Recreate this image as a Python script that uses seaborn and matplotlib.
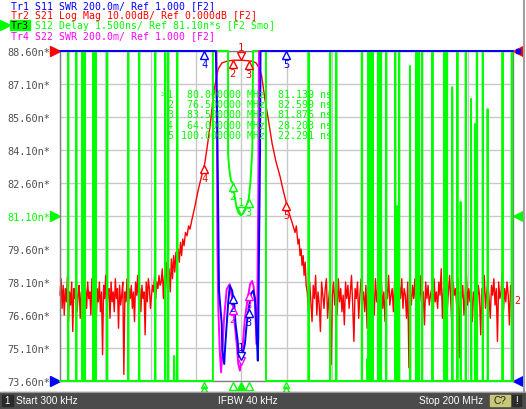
import numpy as np
import matplotlib
matplotlib.use("Agg")
import matplotlib.pyplot as plt
import matplotlib.transforms as mtransforms
from matplotlib.patches import Rectangle
import seaborn as sns

# ── sweep / screen scale (screen is labelled in Tr3 delay units) ─────────────
START_MHZ, STOP_MHZ = 0.3, 200.0
Y_BOT, Y_TOP = 73.6, 88.6
Y_TICKS = [73.6, 75.1, 76.6, 78.1, 79.6, 81.1, 82.6, 84.1, 85.6, 87.1, 88.6]
Y_TICK_LABELS = ["73.60n*", "75.10n*", "76.60n*", "78.10n*", "79.60n*", "81.10n*",
                 "82.60n*", "84.10n*", "85.60n*", "87.10n*", "88.60n*"]

BLUE, RED, GREEN, MAGENTA = "#0000ff", "#ff0000", "#00ff00", "#ff00ff"

# ── Tr2 S21 log mag (dB), 10 dB/div, ref 0 dB at top ─────────────────────────
S21_FLOOR_LEFT_DB = [
    -74, -69, -78, -71, -80, -72, -76, -68, -82, -73, -77, -70, -85, -72, -75, -69, -79, -74,
    -71, -81, -73, -76, -68, -88, -72, -78, -70, -75, -73, -80, -69, -77, -74, -71, -83, -72,
    -76, -70, -79, -73, -92, -71, -75, -68, -78, -74, -72, -81, -70, -76, -73, -79, -69, -75,
    -72, -84, -71, -77, -74, -70, -98, -73, -76, -69, -80, -72, -75, -71, -78, -73, -82, -70,
    -74, -68, -77, -72, -79, -71, -75, -73, -86, -70, -76, -69, -72, -78, -74, -71, -73, -67,
    -75, -70, -72, -68, -71]
S21_SKIRT_MHZ = [
    44.9, 45.4, 45.9, 46.4, 46.9, 47.4, 47.9, 48.4, 48.9, 49.4, 49.9, 50.4, 50.9, 51.4,
    51.9, 52.4, 52.9, 53.4, 53.9, 54.4, 55.0, 55.6, 56.3, 57.0, 57.6, 58.5, 59.8, 61.1,
    62.5, 64.0, 65.1, 66.4, 67.7, 68.6, 70.0, 71.7, 74.4, 77.0, 80.0, 82.3, 84.9, 86.7,
    88.0, 89.2, 89.9, 90.7, 91.6, 92.9, 93.8, 95.5, 97.3, 98.6, 99.7, 100.8, 102.4, 103.9,
    104.5, 105.2, 105.7, 106.1, 106.6, 107.0, 107.5, 107.9, 108.4, 108.8]
S21_SKIRT_DB = [
    -70, -66, -75, -68, -72, -64, -71, -66, -73, -63, -69, -62, -67, -61,
    -65, -60, -64, -58, -62, -57, -59, -55, -56, -53, -54, -51, -47, -42.5,
    -38.5, -34.5, -29.5, -23, -15, -10.5, -5.5, -3.6, -3.0, -2.8, -2.8, -2.9, -3.1, -3.6,
    -5, -7.5, -11, -15, -18.5, -24, -28, -33.5, -38, -42, -45, -48, -51.5, -55,
    -53, -58.5, -57, -62, -60, -65, -62, -68, -64, -71]
S21_FLOOR_RIGHT_DB = [
    -73, -79, -70, -76, -82, -71, -75, -68, -80, -73, -77, -85, -70, -74, -78, -72, -69, -81,
    -75, -71, -95, -74, -70, -77, -73, -80, -69, -76, -72, -79, -74, -83, -70, -75, -71, -78,
    -73, -68, -77, -88, -72, -75, -70, -81, -74, -69, -76, -73, -79, -71, -84, -72, -77, -70,
    -75, -73, -80, -69, -76, -72, -91, -74, -70, -78, -73, -82, -71, -75, -68, -77, -74, -72,
    -79, -70, -76, -73, -85, -71, -75, -69, -78, -72, -74, -81, -70, -96, -73, -77, -71, -75,
    -69, -80, -74, -72, -76, -68, -79, -73, -83, -70, -75, -71, -77, -74, -72, -87, -69, -76,
    -73, -78, -70, -74, -66, -81, -72, -75, -71, -79, -73, -68, -76, -84, -70, -74, -72, -78,
    -69, -93, -73, -75, -71, -80, -74, -67, -77, -72, -76, -70, -82, -73, -75, -69, -79, -71,
    -74, -86, -72, -76, -68, -78, -73, -70, -75, -81, -71, -74, -69, -77, -72, -88, -70, -75,
    -73, -67, -79, -72, -76, -70, -74, -83, -71, -75, -69]

# ── Tr1 S11 / Tr4 S22 SWR, 0.2/div, ref 1.000 at bottom ─────────────────────
S11_MHZ = [0.3, 69.0, 69.6, 70.4, 71.6, 71.85, 72.7, 73.0, 73.8, 74.5, 75.2, 76.2, 77.1,
           77.7, 78.6, 79.2, 80.1, 81.1, 81.8, 82.6, 83.6, 84.5, 85.5, 86.3, 86.7, 87.5,
           87.7, 88.0, 88.5, 88.7, 200.0]
S11_SWR = [9.0, 9.0, 2.6, 1.548, 1.345, 1.184, 1.103, 1.184, 1.345, 1.487, 1.577, 1.548,
           1.467, 1.345, 1.244, 1.144, 1.123, 1.181, 1.224, 1.345, 1.448, 1.528, 1.548,
           1.497, 1.376, 1.123, 1.26, 1.74, 2.41, 9.0, 9.0]
S22_MHZ = [0.3, 69.3, 69.7, 70.1, 70.7, 71.3, 71.85, 72.6, 73.8, 75.1, 76.2, 77.1, 78.2,
           78.9, 79.6, 80.4, 81.1, 81.8, 83.0, 84.1, 85.0, 85.7, 86.3, 86.9, 87.3, 87.7,
           88.0, 200.0]
S22_SWR = [9.0, 9.0, 1.80, 1.436, 1.195, 1.053, 1.164, 1.376, 1.557, 1.587, 1.497, 1.376,
           1.224, 1.103, 1.063, 1.13, 1.26, 1.376, 1.497, 1.587, 1.606, 1.57, 1.467, 1.224,
           1.497, 2.10, 9.0, 9.0]

# ── Tr3 S12 group delay (ns): noisy out of band, clipped to screen ──────────
DELAY_PULSES_MHZ = [3.8, 7.4, 21.0, 30.3, 35.1, 42.2, 46.6, 47.9, 51.9, 109.8, 119.3,
                    122.0, 133.3, 136.2, 137.0, 138.0, 140.6, 141.7, 144.0, 148.0, 149.7,
                    159.8, 164.4, 169.7, 170.8, 175.4, 179.1, 184.0, 186.6, 195.3, 199.4]
DELAY_BANDS_MHZ = [(9.6, 11.8), (14.4, 16.6), (156.8, 159.0)]
DELAY_SPIKES_MHZ = [50.6, 135.8, 149.0, 154.6, 173.2, 176.9, 181.5, 183.2, 188.8]
DELAY_SPIKES_NS = [74.74, 74.6, 81.55, 87.92, 86.96, 81.74, 86.42, 85.28, 85.96]
DELAY_TOP_SPANS_MHZ = [(67.7, 74.4), (85.4, 91.1)]
DELAY_PASS_MHZ = [74.4, 74.9, 75.7, 76.5, 77.2, 78.1, 79.0, 80.0, 81.0, 82.1, 83.5,
                  84.2, 84.6, 85.1]
DELAY_PASS_NS = [83.92, 83.24, 82.69, 82.599, 82.05, 81.51, 81.24, 81.139, 81.21, 81.42,
                 81.876, 82.56, 83.24, 84.15]

# ── marker table ────────────────────────────────────────────────────────────
MARKER_MHZ = [80.0, 76.5, 83.5, 64.0, 100.0]
MARKER_FREQ_TXT = ["80.000000", "76.500000", "83.500000", "64.000000", "100.000000"]
MARKER_DELAY_NS = [81.139, 82.599, 81.876, 28.203, 22.291]

HEADER = [("Tr1 S11 SWR 200.0m/ Ref 1.000 [F2]", BLUE),
          ("Tr2 S21 Log Mag 10.00dB/ Ref 0.000dB [F2]", RED),
          ("Tr3 S12 Delay 1.500ns/ Ref 81.10n*s [F2 Smo]", GREEN),
          ("Tr4 S22 SWR 200.0m/ Ref 1.000 [F2]", MAGENTA)]


def db_to_screen(db):
    return Y_TOP + np.asarray(db, float) / 10.0 * 1.5


def swr_to_screen(swr):
    return Y_BOT + (np.asarray(swr, float) - 1.0) / 0.2 * 1.5


def delay_path():
    lo, hi = Y_BOT - 5, Y_TOP + 5
    events = []
    for f in DELAY_PULSES_MHZ:
        events.append((f, [(f, lo), (f, hi), (f + 0.2, hi), (f + 0.2, lo)]))
    for f, v in zip(DELAY_SPIKES_MHZ, DELAY_SPIKES_NS):
        events.append((f, [(f, lo), (f, v), (f + 0.2, lo)]))
    (a1, b1), (a2, b2) = DELAY_TOP_SPANS_MHZ
    pas = [(a1, lo), (a1, hi), (b1, hi)] + list(zip(DELAY_PASS_MHZ, DELAY_PASS_NS)) \
        + [(a2, hi), (b2, hi), (b2, lo)]
    events.append((a1, pas))
    pts = [(START_MHZ, lo)]
    for _, seg in sorted(events, key=lambda e: e[0]):
        pts += seg
    pts.append((STOP_MHZ, lo))
    arr = np.array(pts)
    return arr[:, 0], np.clip(arr[:, 1], Y_BOT, Y_TOP)


def trace(ax, x, y, color, lw, z):
    sns.lineplot(x=np.asarray(x, float), y=np.clip(y, Y_BOT, Y_TOP), estimator=None,
                 sort=False, color=color, lw=lw, ax=ax, zorder=z, clip_on=False)


def marker(ax, f, v, label, color, above=False):
    v = min(max(v, Y_BOT), Y_TOP)
    s = 1 if above else -1
    tri = mtransforms.offset_copy(ax.transData, fig=ax.figure, x=0, y=s * 4, units="dots")
    ax.plot([f], [v], marker="v" if above else "^", ms=5.5, mfc="white", mec=color,
            mew=1.0, transform=tri, clip_on=False, zorder=9)
    lab = mtransforms.offset_copy(ax.transData, fig=ax.figure, x=0, y=s * 13, units="dots")
    ax.text(f, v, label, transform=lab, color=color, ha="center", va="center",
            fontsize=7.5, zorder=9)


sns.set_style("white")
plt.rcParams["font.family"] = ["DejaVu Sans Mono"]

fig = plt.figure(figsize=(5.26, 4.10), dpi=100)
ax = fig.add_axes([60 / 526, 1 - 382 / 410, 453 / 526, 330 / 410])
ax.set_xlim(START_MHZ, STOP_MHZ)
ax.set_ylim(Y_BOT, Y_TOP)
ax.set_xticks(np.linspace(START_MHZ, STOP_MHZ, 11))
ax.set_yticks(Y_TICKS)
ax.set_xticklabels([])
ax.set_yticklabels(Y_TICK_LABELS, fontsize=7.4, color="#505050")
ax.get_yticklabels()[5].set_color(GREEN)
ax.tick_params(length=0, pad=7)
ax.grid(True, color="#c8c8c8", lw=1)
for sp in ax.spines.values():
    sp.set_color("#808080")
    sp.set_linewidth(1)
ax.set_xlabel("")
ax.set_ylabel("")

# traces
s21_mhz = np.concatenate([np.linspace(START_MHZ, 44.4, len(S21_FLOOR_LEFT_DB)), S21_SKIRT_MHZ,
                          np.linspace(109.3, STOP_MHZ, len(S21_FLOOR_RIGHT_DB))])
s21_db = np.concatenate([S21_FLOOR_LEFT_DB, S21_SKIRT_DB, S21_FLOOR_RIGHT_DB])
trace(ax, s21_mhz, db_to_screen(s21_db), RED, 1.0, 2)

gx, gy = delay_path()
trace(ax, gx, gy, GREEN, 1.4, 3)
for a, b in DELAY_BANDS_MHZ:
    ax.fill_between([a, b], Y_BOT, Y_TOP, color=GREEN, lw=0, zorder=3)

trace(ax, S22_MHZ, swr_to_screen(S22_SWR), MAGENTA, 1.4, 4)
trace(ax, S11_MHZ, swr_to_screen(S11_SWR), BLUE, 1.4, 5)

# trace markers
s21_at = np.interp(MARKER_MHZ, s21_mhz, db_to_screen(s21_db))
s11_at = np.interp(MARKER_MHZ, S11_MHZ, swr_to_screen(S11_SWR))
s22_at = np.interp(MARKER_MHZ, S22_MHZ, swr_to_screen(S22_SWR))
for i in range(1, 3):
    marker(ax, MARKER_MHZ[i], s22_at[i], str(i + 1), MAGENTA)
marker(ax, MARKER_MHZ[0], s22_at[0], "1", MAGENTA, above=True)
for i in range(1, 5):
    marker(ax, MARKER_MHZ[i], s11_at[i], str(i + 1), BLUE)
marker(ax, MARKER_MHZ[0], s11_at[0], "1", BLUE, above=True)
for i in range(1, 5):
    marker(ax, MARKER_MHZ[i], s21_at[i], str(i + 1), RED)
marker(ax, MARKER_MHZ[0], s21_at[0], "1", RED, above=True)
for i in range(1, 3):
    marker(ax, MARKER_MHZ[i], MARKER_DELAY_NS[i], str(i + 1), GREEN)
marker(ax, MARKER_MHZ[0], MARKER_DELAY_NS[0], "1", GREEN, above=True)

# marker readout (active trace Tr3)
ov = fig.add_axes([0, 0, 1, 1])
ov.set_xlim(0, 526)
ov.set_ylim(410, 0)
ov.axis("off")
ov.patch.set_alpha(0)
for i, (ftxt, ns) in enumerate(zip(MARKER_FREQ_TXT, MARKER_DELAY_NS)):
    y = 95 + 10.2 * i
    ov.text(173, y, str(i + 1), color=GREEN, fontsize=7.2, ha="right", va="center")
    ov.text(265, y, f"{ftxt} MHz", color=GREEN, fontsize=7.2, ha="right", va="center")
    ov.text(332, y, f"{ns:.3f} ns", color=GREEN, fontsize=7.2, ha="right", va="center")
ov.text(163, 95, ">", color=GREEN, fontsize=6.5, ha="center", va="center")

# off-screen / position markers under the axis for Tr3
below = mtransforms.blended_transform_factory(ax.transData, ov.transData)
for f in MARKER_MHZ[3:]:
    ax.plot([f, f], [386, 390], marker="^", ms=5, mfc="none", mec=GREEN, mew=1,
            ls="none", transform=below, clip_on=False)
for f in MARKER_MHZ[1:3]:
    ax.plot([f], [387], marker="^", ms=6, mfc="white", mec=GREEN, mew=1,
            transform=below, clip_on=False)
ax.plot([MARKER_MHZ[0]], [387], marker="^", ms=6, color=GREEN, transform=below,
        clip_on=False, zorder=10)

# reference level arrows
yax = ax.get_yaxis_transform()
for yv, c in [(Y_TOP, RED), (81.1, GREEN), (Y_BOT, BLUE)]:
    ax.plot([-0.01], [yv], marker=">", ms=7, color=c, transform=yax, clip_on=False)
for yv, c in [(Y_TOP, RED), (81.1, GREEN), (Y_BOT, BLUE)]:
    ax.plot([1.01], [yv], marker="<", ms=7, color=c, transform=yax, clip_on=False)
ax.plot([1.012], [Y_TOP], marker="s", ms=2.5, color=BLUE, transform=yax, clip_on=False)
ov.text(517, 301, "2", color=RED, fontsize=7.2, ha="center", va="center")

# channel header
cw = 7.1 * 100 / 72 * 0.602
for i, (txt, c) in enumerate(HEADER):
    y = 6 + 10 * i
    if i == 2:
        ov.add_patch(Rectangle((10, y - 5), 3 * cw + 2, 10, color=GREEN))
        ov.text(11, y, txt[:3], color="black", fontsize=7.1, va="center")
        ov.text(11 + 4 * cw, y, txt[4:], color=c, fontsize=7.1, va="center")
        ov.plot([4.5], [y], marker=">", ms=7, color=GREEN)
    else:
        ov.text(11, y, txt, color=c, fontsize=7.1, va="center")

# status bar
ov.plot([523.5, 523.5], [0, 393], color="#a0a0a0", lw=1.5)
ov.add_patch(Rectangle((0, 392.5), 526, 17.5, color="#4b4b4b"))
ov.plot([0, 526], [392.8, 392.8], color="#9a9a9a", lw=0.8)
ov.add_patch(Rectangle((1.5, 396), 11, 11, color="#2a2a2a"))
ov.text(7, 401.5, "1", color="white", fontsize=7, ha="center", va="center", family="Liberation Sans")
ov.text(16, 401.5, "Start 300 kHz", color="white", fontsize=7.3, va="center", family="Liberation Sans")
ov.text(248, 401.5, "IFBW 40 kHz", color="white", fontsize=7.3, ha="center", va="center", family="Liberation Sans")
ov.text(483, 401.5, "Stop 200 MHz", color="white", fontsize=7.3, ha="right", va="center", family="Liberation Sans")
ov.add_patch(Rectangle((490, 396), 20, 11, color="#c8c878"))
ov.text(500, 401.5, "C?", color="#202020", fontsize=7.3, ha="center", va="center", family="Liberation Sans")
ov.add_patch(Rectangle((512, 396), 9, 11, color="#2a2a2a"))
ov.text(516.5, 401.5, "!", color="white", fontsize=7.3, ha="center", va="center", family="Liberation Sans")

fig.savefig("out.png", dpi=100)
plt.close(fig)
